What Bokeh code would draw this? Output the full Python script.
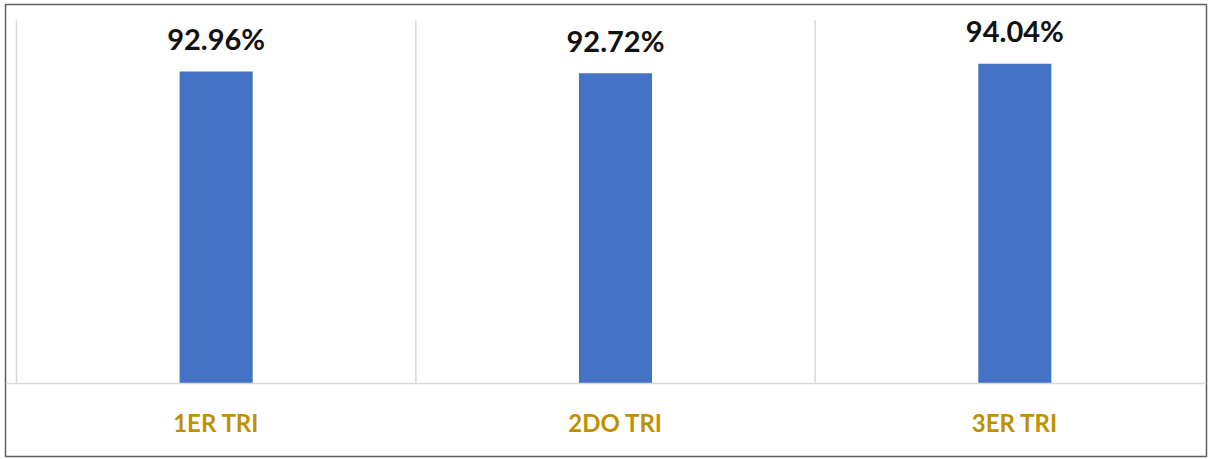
from bokeh.plotting import figure
from bokeh.models import ColumnDataSource, Range1d, Span
from bokeh.core.properties import value
from bokeh.embed import file_html
from bokeh.resources import INLINE

categories = ["1ER TRI", "2DO TRI", "3ER TRI"]
values = [92.96, 92.72, 94.04]
value_labels = ["92.96%", "92.72%", "94.04%"]

x_pos = [i + 0.5 for i in range(len(categories))]
src = ColumnDataSource(dict(x=x_pos, top=values, lab=value_labels, cat=categories,
                            cy=[44.6] * len(categories)))

p = figure(width=1211, height=459, output_backend="svg", toolbar_location=None,
           x_range=Range1d(-0.0275, 2.980), y_range=Range1d(39.94, 102.2),
           min_border_left=5, min_border_right=5, min_border_top=4, min_border_bottom=3)
p.axis.visible = False
p.grid.visible = False
p.outline_line_color = "#5f5f5f"
p.outline_line_width = 1.5
p.background_fill_color = "white"
p.border_fill_color = "white"

# vertical category separators
p.segment(x0=[0, 1, 2, 3], y0=[50] * 4, x1=[0, 1, 2, 3], y1=[100] * 4,
          line_color="#d9d9d9", line_width=1.5)
# baseline
p.add_layout(Span(location=50, dimension="width", line_color="#d9d9d9", line_width=1.5))

p.vbar(x="x", top="top", bottom=50, width=0.183, source=src,
       fill_color="#4472C4", line_color=None)

p.text(x="x", y="top", text="lab", source=src, text_align="center",
       text_baseline="alphabetic", y_offset=-33,
       text_font=value("Lato"), text_font_style="bold",
       text_font_size="29px", text_color="#111111")

p.text(x="x", y="cy", text="cat", source=src, text_align="center",
       text_baseline="middle",
       text_font=value("Lato"), text_font_style="bold",
       text_font_size="24px", text_color="#BF9000")

open("out.html", "w").write(file_html(p, INLINE))
